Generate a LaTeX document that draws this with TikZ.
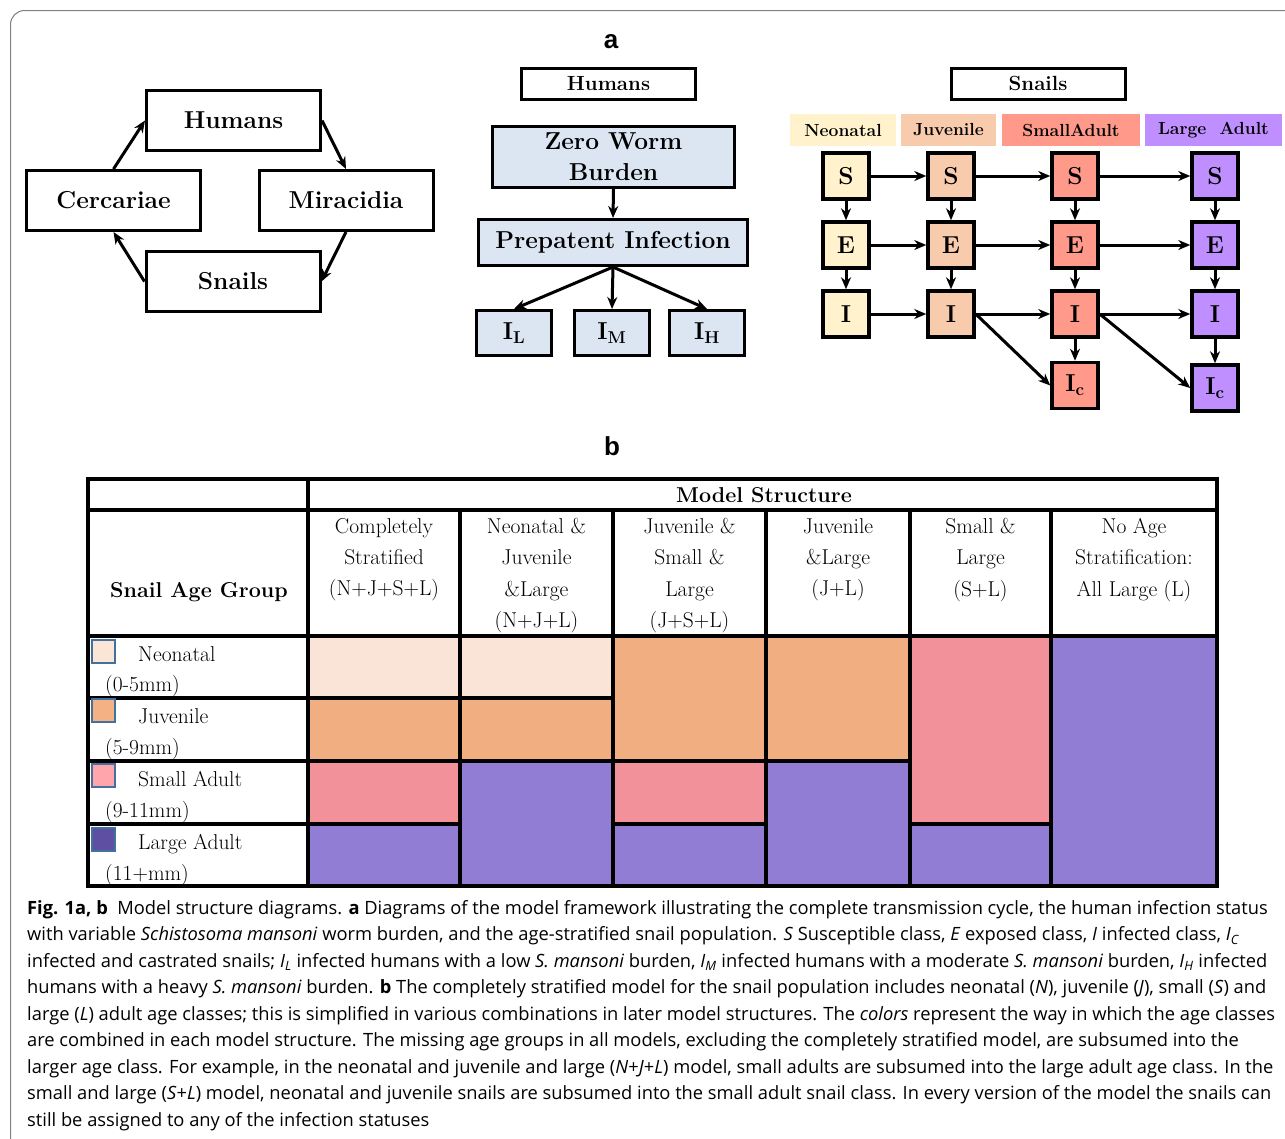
\documentclass[tikz,border=0pt]{standalone}
\usepackage{fontspec}
\usepackage{xcolor}
\usetikzlibrary{positioning,arrows.meta}
\newfontfamily\capfont{Open Sans}
\newfontfamily\panelfont{Liberation Sans}

\definecolor{humanblue}{HTML}{DCE6F2}
\definecolor{neocol}{HTML}{FFF2CC}
\definecolor{juvcol}{HTML}{F8CBAD}
\definecolor{smallcol}{HTML}{FF9A8A}
\definecolor{largecol}{HTML}{C08FFF}
\definecolor{tneo}{HTML}{FAE3D7}
\definecolor{tjuv}{HTML}{F1AE81}
\definecolor{tsmall}{HTML}{F2919A}
\definecolor{tlarge}{HTML}{917ED4}
\definecolor{legneo}{HTML}{FBE5D6}
\definecolor{legjuv}{HTML}{F4B183}
\definecolor{legsmall}{HTML}{FFA5AB}
\definecolor{leglarge}{HTML}{5E4FA2}
\definecolor{legedge}{HTML}{41719C}
\definecolor{framegray}{HTML}{808080}

\newcommand{\bigbf}{\fontsize{24.5}{31}\selectfont\bfseries}
\newcommand{\midbf}{\fontsize{20.5}{24}\selectfont\bfseries}
\newcommand{\smallbf}{\fontsize{17.5}{21}\selectfont\bfseries}
\newcommand{\tabrm}{\fontsize{21.5}{31.3}\selectfont}
\newcommand{\tabbf}{\fontsize{21.5}{31.3}\selectfont\bfseries}
\newcommand{\capsize}{\capfont\fontsize{18.3}{26.5}\selectfont}

\begin{document}
\begin{tikzpicture}[x=1pt, y=-1pt,
        cycbox/.style={draw, line width=3pt, minimum width=174pt, minimum height=60pt, font=\bigbf},
        headbox/.style={draw, line width=3pt, minimum width=174pt, minimum height=31pt, font=\midbf, inner sep=0pt},
        hbox/.style={draw, line width=3pt, fill=humanblue, font=\bigbf, inner sep=0pt},
        agebox/.style={minimum height=32pt, font=\smallbf, inner sep=0pt},
        comp/.style={draw, line width=3.5pt, minimum size=46pt, font=\bigbf, inner sep=0pt},
        link/.style={->, line width=3pt},
        cell/.style={draw, line width=4pt},
        legend/.style={draw=legedge, line width=2pt},
        coltext/.style={anchor=north, align=center, font=\tabrm, inner sep=0pt},
        rowtext/.style={anchor=base west, font=\tabrm, inner sep=0pt},
        panel/.style={font=\panelfont\fontsize{26}{30}\selectfont\bfseries},
        >={Stealth[length=12pt,width=10pt]}
    ]
        \useasboundingbox (0,0) rectangle (1285,1138);
        \draw [framegray, line width=1pt, rounded corners=14pt] (1300,10.5) -- (10.5,10.5) -- (10.5,1150);

        \node [panel] (pa) at (611,42) {a};
        \node [panel] (pb) at (612,446) {b};

        % transmission cycle
        \node [cycbox] (humans) at (233.5,120.5) {Humans};
        \node [cycbox] (cerc) at (113.5,200.5) {Cercariae};
        \node [cycbox] (mira) at (346,200.5) {Miracidia};
        \node [cycbox] (snails) at (233,281.5) {Snails};

        \draw [link] (cerc.north) -- (humans.west);
        \draw [link] (humans.east) -- (mira.north);
        \draw [link] (mira.south) -- (snails.east);
        \draw [link] (snails.west) -- (cerc.south);

        % human infection status
        \node [headbox] (hhead) at (608.5,84) {Humans};
        \node [hbox, minimum width=242pt, minimum height=61pt, align=center] (zero) at (613.5,157) {Zero Worm\\Burden};
        \node [hbox, minimum width=269pt, minimum height=46pt] (prep) at (613,242.5) {Prepatent Infection};
        \node [hbox, minimum width=75pt, minimum height=45pt] (il) at (514,333) {I\textsubscript{L}};
        \node [hbox, minimum width=75pt, minimum height=45pt, right=20pt of il] (im) {I\textsubscript{M}};
        \node [hbox, minimum width=75pt, minimum height=45pt, right=17pt of im] (ih) {I\textsubscript{H}};

        \draw [link] (zero.south) -- (prep.north);
        \draw [link] (prep.south) -- (il.north);
        \draw [link] (prep.south) -- (im.north);
        \draw [link] (prep.south) -- (ih.north);

        % snail age classes
        \node [headbox] (shead) at (1038,83.5) {Snails};
        \node [agebox, fill=neocol, minimum width=106pt] (lneo) at (843,130) {Neonatal};
        \node [agebox, fill=juvcol, minimum width=95pt] (ljuv) at (948.5,130) {Juvenile};
        \node [agebox, fill=smallcol, minimum width=138pt] (lsmall) at (1071,130) {SmallAdult};
        \node [agebox, fill=largecol, minimum width=137pt] (llarge) at (1213.5,130) {Large\ \ Adult};

        \node [comp, fill=neocol] (nS) at (846,176) {S};
        \node [comp, fill=neocol, below=19.5pt of nS] (nE) {E};
        \node [comp, fill=neocol, below=19.5pt of nE] (nI) {I};

        \node [comp, fill=juvcol] (jS) at (951,176) {S};
        \node [comp, fill=juvcol, below=19.5pt of jS] (jE) {E};
        \node [comp, fill=juvcol, below=19.5pt of jE] (jI) {I};

        \node [comp, fill=smallcol] (sS) at (1075,176) {S};
        \node [comp, fill=smallcol, below=19.5pt of sS] (sE) {E};
        \node [comp, fill=smallcol, below=19.5pt of sE] (sI) {I};
        \node [comp, fill=smallcol, below=22pt of sI] (sIc) {I\textsubscript{c}};

        \node [comp, fill=largecol] (lS) at (1215,176) {S};
        \node [comp, fill=largecol, below=19.5pt of lS] (lE) {E};
        \node [comp, fill=largecol, below=19.5pt of lE] (lI) {I};
        \node [comp, fill=largecol, below=24.5pt of lI] (lIc) {I\textsubscript{c}};

        \draw [link] (nS) -- (jS);
        \draw [link] (jS) -- (sS);
        \draw [link] (sS) -- (lS);
        \draw [link] (nE) -- (jE);
        \draw [link] (jE) -- (sE);
        \draw [link] (sE) -- (lE);
        \draw [link] (nI) -- (jI);
        \draw [link] (jI) -- (sI);
        \draw [link] (sI) -- (lI);

        \draw [link] (nS) -- (nE);
        \draw [link] (nE) -- (nI);
        \draw [link] (jS) -- (jE);
        \draw [link] (jE) -- (jI);
        \draw [link] (sS) -- (sE);
        \draw [link] (sE) -- (sI);
        \draw [link] (sI) -- (sIc);
        \draw [link] (lS) -- (lE);
        \draw [link] (lE) -- (lI);
        \draw [link] (lI) -- (lIc);

        \draw [link] (jI.east) -- (sIc.west);
        \draw [link] (sI.east) -- (lIc.west);

        % table b: coloured cells
        \draw [cell, fill=tneo] (308,636) rectangle (460,698);
        \draw [cell, fill=tjuv] (308,698) rectangle (460,761);
        \draw [cell, fill=tsmall] (308,761) rectangle (460,824);
        \draw [cell, fill=tlarge] (308,824) rectangle (460,886);

        \draw [cell, fill=tneo] (460,636) rectangle (613,698);
        \draw [cell, fill=tjuv] (460,698) rectangle (613,761);
        \draw [cell, fill=tlarge] (460,761) rectangle (613,886);

        \draw [cell, fill=tjuv] (613,636) rectangle (766,761);
        \draw [cell, fill=tsmall] (613,761) rectangle (766,824);
        \draw [cell, fill=tlarge] (613,824) rectangle (766,886);

        \draw [cell, fill=tjuv] (766,636) rectangle (910,761);
        \draw [cell, fill=tlarge] (766,761) rectangle (910,886);

        \draw [cell, fill=tsmall] (910,636) rectangle (1051,824);
        \draw [cell, fill=tlarge] (910,824) rectangle (1051,886);

        \draw [cell, fill=tlarge] (1051,636) rectangle (1217,886);

        % table b: header and row cells
        \draw [cell] (88,479) rectangle (308,510);
        \draw [cell] (308,479) rectangle (1217,510);
        \draw [cell] (88,510) rectangle (308,636);
        \draw [cell] (308,510) rectangle (460,636);
        \draw [cell] (460,510) rectangle (613,636);
        \draw [cell] (613,510) rectangle (766,636);
        \draw [cell] (766,510) rectangle (910,636);
        \draw [cell] (910,510) rectangle (1051,636);
        \draw [cell] (1051,510) rectangle (1217,636);
        \draw [cell] (88,636) rectangle (308,698);
        \draw [cell] (88,698) rectangle (308,761);
        \draw [cell] (88,761) rectangle (308,824);
        \draw [cell] (88,824) rectangle (308,886);

        \node [font=\tabbf, anchor=base] (mstruct) at (764,502) {Model Structure};
        \node [font=\tabbf, anchor=base] (agegroup) at (199,597) {Snail Age Group};

        \node [coltext] (hnjsl) at (384,518) {Completely\\Stratified\\(N+J+S+L)};
        \node [coltext] (hnjl) at (536.5,518) {Neonatal \&\\Juvenile\\\&Large\\(N+J+L)};
        \node [coltext] (hjsl) at (689.5,518) {Juvenile \&\\Small \&\\Large\\(J+S+L)};
        \node [coltext] (hjl) at (838,518) {Juvenile\\\&Large\\(J+L)};
        \node [coltext] (hsl) at (980.5,518) {Small \&\\Large\\(S+L)};
        \node [coltext] (hl) at (1134,518) {No Age\\Stratification:\\All Large (L)};

        % table b: legend squares and age groups
        \draw [legend, fill=legneo] (92,640) rectangle (115,663);
        \draw [legend, fill=legjuv] (92,699) rectangle (115,722);
        \draw [legend, fill=legsmall] (92,764) rectangle (115,787);
        \draw [legend, fill=leglarge] (92,828) rectangle (115,851);

        \node [rowtext] (rneo) at (138,661) {Neonatal};
        \node [rowtext] (rneomm) at (105,691) {(0-5mm)};
        \node [rowtext] (rjuv) at (138,723) {Juvenile};
        \node [rowtext] (rjuvmm) at (105,754) {(5-9mm)};
        \node [rowtext] (rsmall) at (138,786) {Small Adult};
        \node [rowtext] (rsmallmm) at (105,817) {(9-11mm)};
        \node [rowtext] (rlarge) at (138,849) {Large Adult};
        \node [rowtext] (rlargemm) at (105,880) {(11+mm)};

        % caption
        \node [anchor=north west, align=left, inner sep=0pt, font=\capsize] (caption) at (27,900) {%
            \textbf{Fig. 1a, b}\ \ Model structure diagrams. \textbf{a} Diagrams of the model framework illustrating the complete transmission cycle, the human infection status\\
            with variable \textit{Schistosoma mansoni} worm burden, and the age-stratified snail population. \textit{S} Susceptible class, \textit{E} exposed class, \textit{I} infected class, \textit{I}\textsubscript{\textit{C}}\\
            infected and castrated snails; \textit{I}\textsubscript{\textit{L}} infected humans with a low \textit{S. mansoni} burden, \textit{I}\textsubscript{\textit{M}} infected humans with a moderate \textit{S. mansoni} burden, \textit{I}\textsubscript{\textit{H}} infected\\
            humans with a heavy \textit{S. mansoni} burden. \textbf{b} The completely stratified model for the snail population includes neonatal (\textit{N}), juvenile (\textit{J}), small (\textit{S}) and\\
            large (\textit{L}) adult age classes; this is simplified in various combinations in later model structures. The \textit{colors} represent the way in which the age classes\\
            are combined in each model structure. The missing age groups in all models, excluding the completely stratified model, are subsumed into the\\
            larger age class. For example, in the neonatal and juvenile and large (\textit{N}+\textit{J}+\textit{L}) model, small adults are subsumed into the large adult age class. In the\\
            small and large (\textit{S}+\textit{L}) model, neonatal and juvenile snails are subsumed into the small adult snail class. In every version of the model the snails can\\
            still be assigned to any of the infection statuses};
    \end{tikzpicture}
\end{document}
